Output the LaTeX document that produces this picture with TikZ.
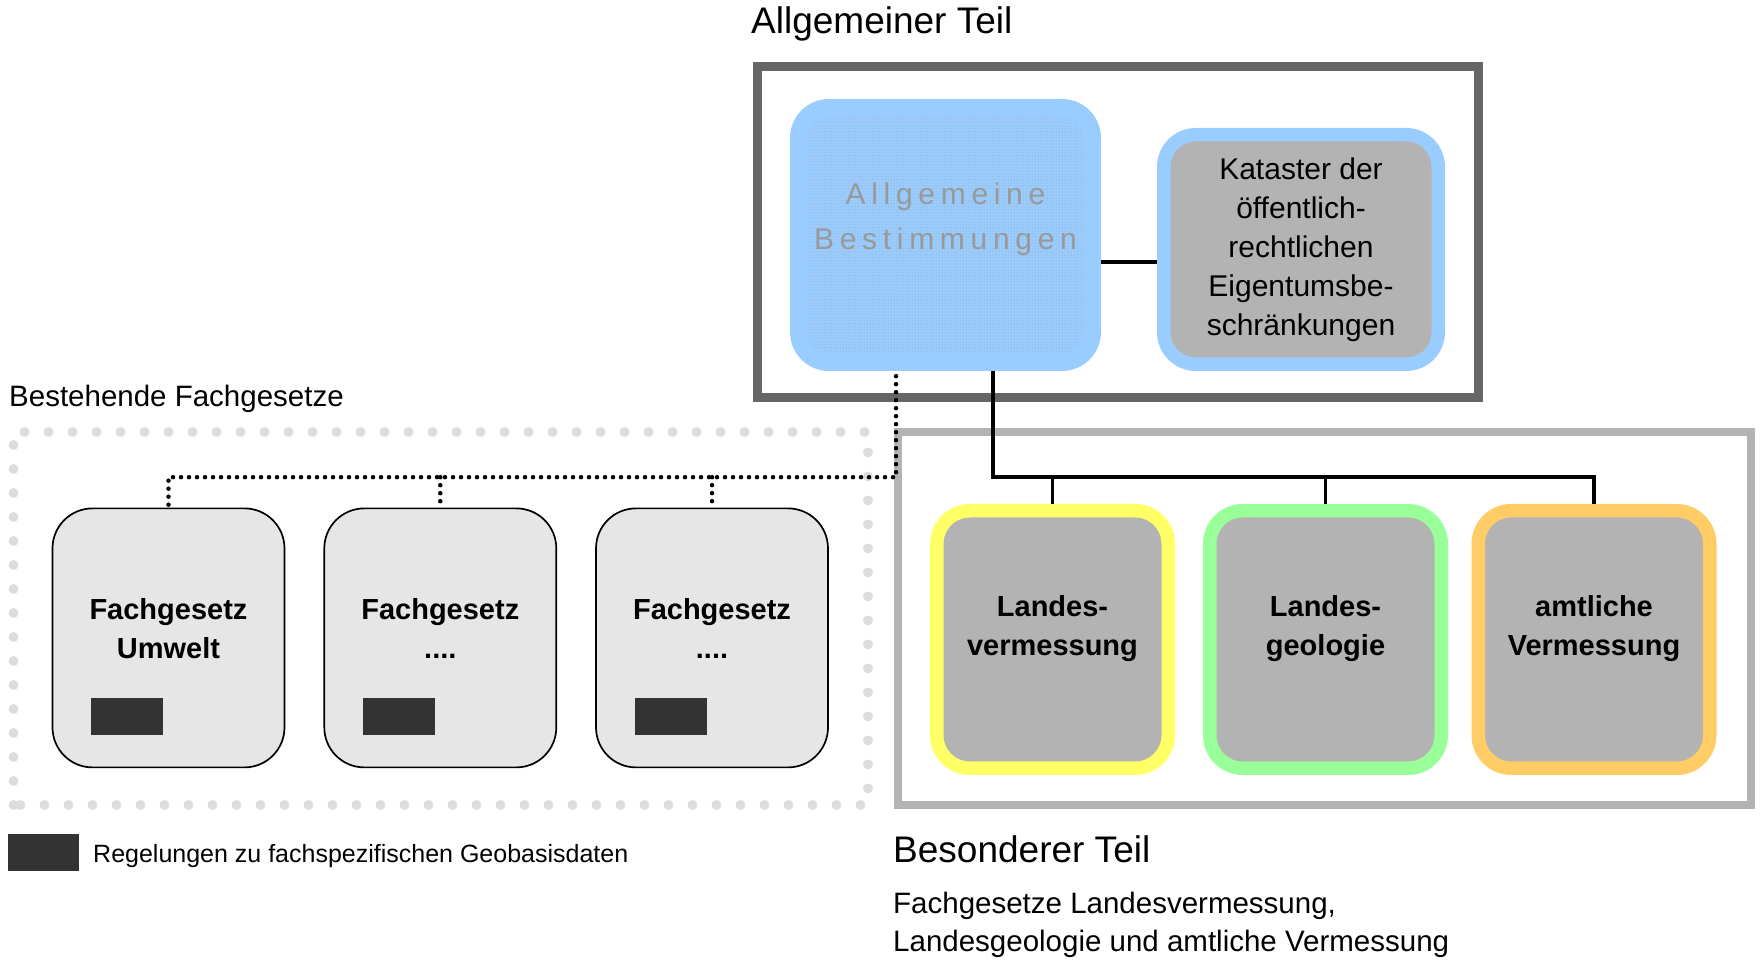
\documentclass[tikz,border=0pt]{standalone}
\usepackage{fontspec}
\setmainfont{Liberation Sans}
\newfontfamily\spacedfont[LetterSpace=19]{Liberation Sans}
\usetikzlibrary{calc,patterns}
\definecolor{frameDark}{HTML}{666666}
\definecolor{frameLight}{HTML}{B3B3B3}
\definecolor{boxBlue}{HTML}{99CCFF}
\definecolor{boxGrey}{HTML}{B3B3B3}
\definecolor{boxYellow}{HTML}{FFFF66}
\definecolor{boxGreen}{HTML}{99FF99}
\definecolor{boxOrange}{HTML}{FFCC66}
\definecolor{lawGrey}{HTML}{E6E6E6}
\definecolor{dataDark}{HTML}{333333}
\definecolor{dotGrey}{HTML}{DDDDDD}
\tikzset{
  lawbox/.style={draw=black, line width=1.7pt, fill=lawGrey, rounded corners=40pt, minimum width=232pt, minimum height=259pt, inner sep=0pt},
  partbox/.style={draw=#1, line width=13.5pt, fill=boxGrey, rounded corners=33pt, minimum width=231.5pt, minimum height=257.5pt, inner sep=0pt},
  boldtext/.style={font=\fontsize{29}{39}\selectfont\bfseries, align=center},
  datablock/.style={fill=dataDark, minimum width=72pt, minimum height=37pt, inner sep=0pt},
  treeline/.style={line width=3.4pt},
  linkdots/.style={line width=4.5pt, dash pattern=on 0pt off 8pt, line cap=round},
  heading/.style={font=\fontsize{37}{40}\selectfont, anchor=base west, inner sep=0pt},
  subheading/.style={font=\fontsize{29.5}{34}\selectfont, anchor=base west, inner sep=0pt}
}

\begin{document}
\begin{tikzpicture}[x=1pt,y=1pt]
	%%%%% START %%%%%
	\useasboundingbox (0,0) rectangle (1761,960);
	
	\draw[line width=9pt, color=frameDark] (757,562) rectangle (1478,893);
	\draw[line width=8pt, color=frameLight] (898,155) rectangle (1751,528);
	\draw[line width=10pt, color=dotGrey, dash pattern=on 0pt off 24pt, line cap=round] (13.5,155) rectangle (868,528);
	
	\node[heading] (allgtitle) at (751,926) {Allgemeiner Teil};
	\node[heading] (bestitle) at (893,97.5) {Besonderer Teil};
	\node[subheading] (fachtitle) at (9,553.4) {Bestehende Fachgesetze};
	\node[subheading] (bessub1) at (893,46) {Fachgesetze Landesvermessung,};
	\node[subheading] (bessub2) at (893,8) {Landesgeologie und amtliche Vermessung};
	
	\node[fill=boxBlue, rounded corners=39pt, minimum width=311pt, minimum height=272pt, inner sep=0pt] (ab) at (945.5,725) {};
	\fill[pattern=dots, pattern color=black!40, rounded corners=22pt] ($(ab.south west)+(18,18)$) rectangle ($(ab.north east)-(18,18)$);
	\node[font=\fontsize{30}{45}\spacedfont, text=black!40, align=center] (ablabel) at (945.5,741) {Allgemeine\\Bestimmungen};
	\node[partbox=boxBlue, minimum width=274.5pt, minimum height=229.5pt, rounded corners=32pt, font=\fontsize{30}{39}\selectfont, align=center] (kat) at (1301,710.5) {Kataster der\\öffentlich-\\rechtlichen\\Eigentumsbe-\\schränkungen};
	\draw[treeline] ([yshift=-27pt]ab.east) -- ([yshift=-27pt]ab.east -| kat.west);
	
	\node[partbox=boxYellow] (lv) at (1052.5,320.5) {};
	\node[partbox=boxGreen] (lg) at (1325.5,320.5) {};
	\node[partbox=boxOrange] (av) at (1594,320.5) {};
	\node[boldtext] (lvtext) at ([yshift=11pt]lv.center) {Landes-\\vermessung};
	\node[boldtext] (lgtext) at ([yshift=11pt]lg.center) {Landes-\\geologie};
	\node[boldtext] (avtext) at ([yshift=11pt]av.center) {amtliche\\Vermessung};
	
	\draw[treeline] ([xshift=47.5pt]ab.south) -- ++(0,-106) coordinate (treejoin) -| (av.north);
	\draw[treeline] (treejoin -| lv.north) -- (lv.north);
	\draw[treeline] (treejoin -| lg.north) -- (lg.north);
	
	\node[lawbox] (fu) at (168.5,322.1) {};
	\node[lawbox] (f2) at (440.3,322.1) {};
	\node[lawbox] (f3) at (712,322.1) {};
	\node[boldtext] (futext) at ([yshift=9pt]fu.center) {Fachgesetz\\Umwelt};
	\node[boldtext] (f2text) at ([yshift=9pt]f2.center) {Fachgesetz\\....};
	\node[boldtext] (f3text) at ([yshift=9pt]f3.center) {Fachgesetz\\....};
	\node[datablock] (fudata) at ([shift={(-41.5,-79)}]fu.center) {};
	\node[datablock] (f2data) at ([shift={(-41.5,-79)}]f2.center) {};
	\node[datablock] (f3data) at ([shift={(-41.5,-79)}]f3.center) {};
	
	\draw[linkdots] ([shift={(-49.5,-5)}]ab.south) -- ++(0,-101) coordinate (linkjoin) -| (fu.north);
	\draw[linkdots] (linkjoin -| f2.north) -- (f2.north);
	\draw[linkdots] (linkjoin -| f3.north) -- (f3.north);
	
	\node[datablock, minimum width=71pt, anchor=south west] (legendblock) at (8,88.5) {};
	\node[font=\fontsize{25}{28}\selectfont, anchor=base west, inner sep=0pt] (legendtext) at (93,97.5) {Regelungen zu fachspezifischen Geobasisdaten};
	
	%%%%% END %%%%%
\end{tikzpicture}
\end{document}
